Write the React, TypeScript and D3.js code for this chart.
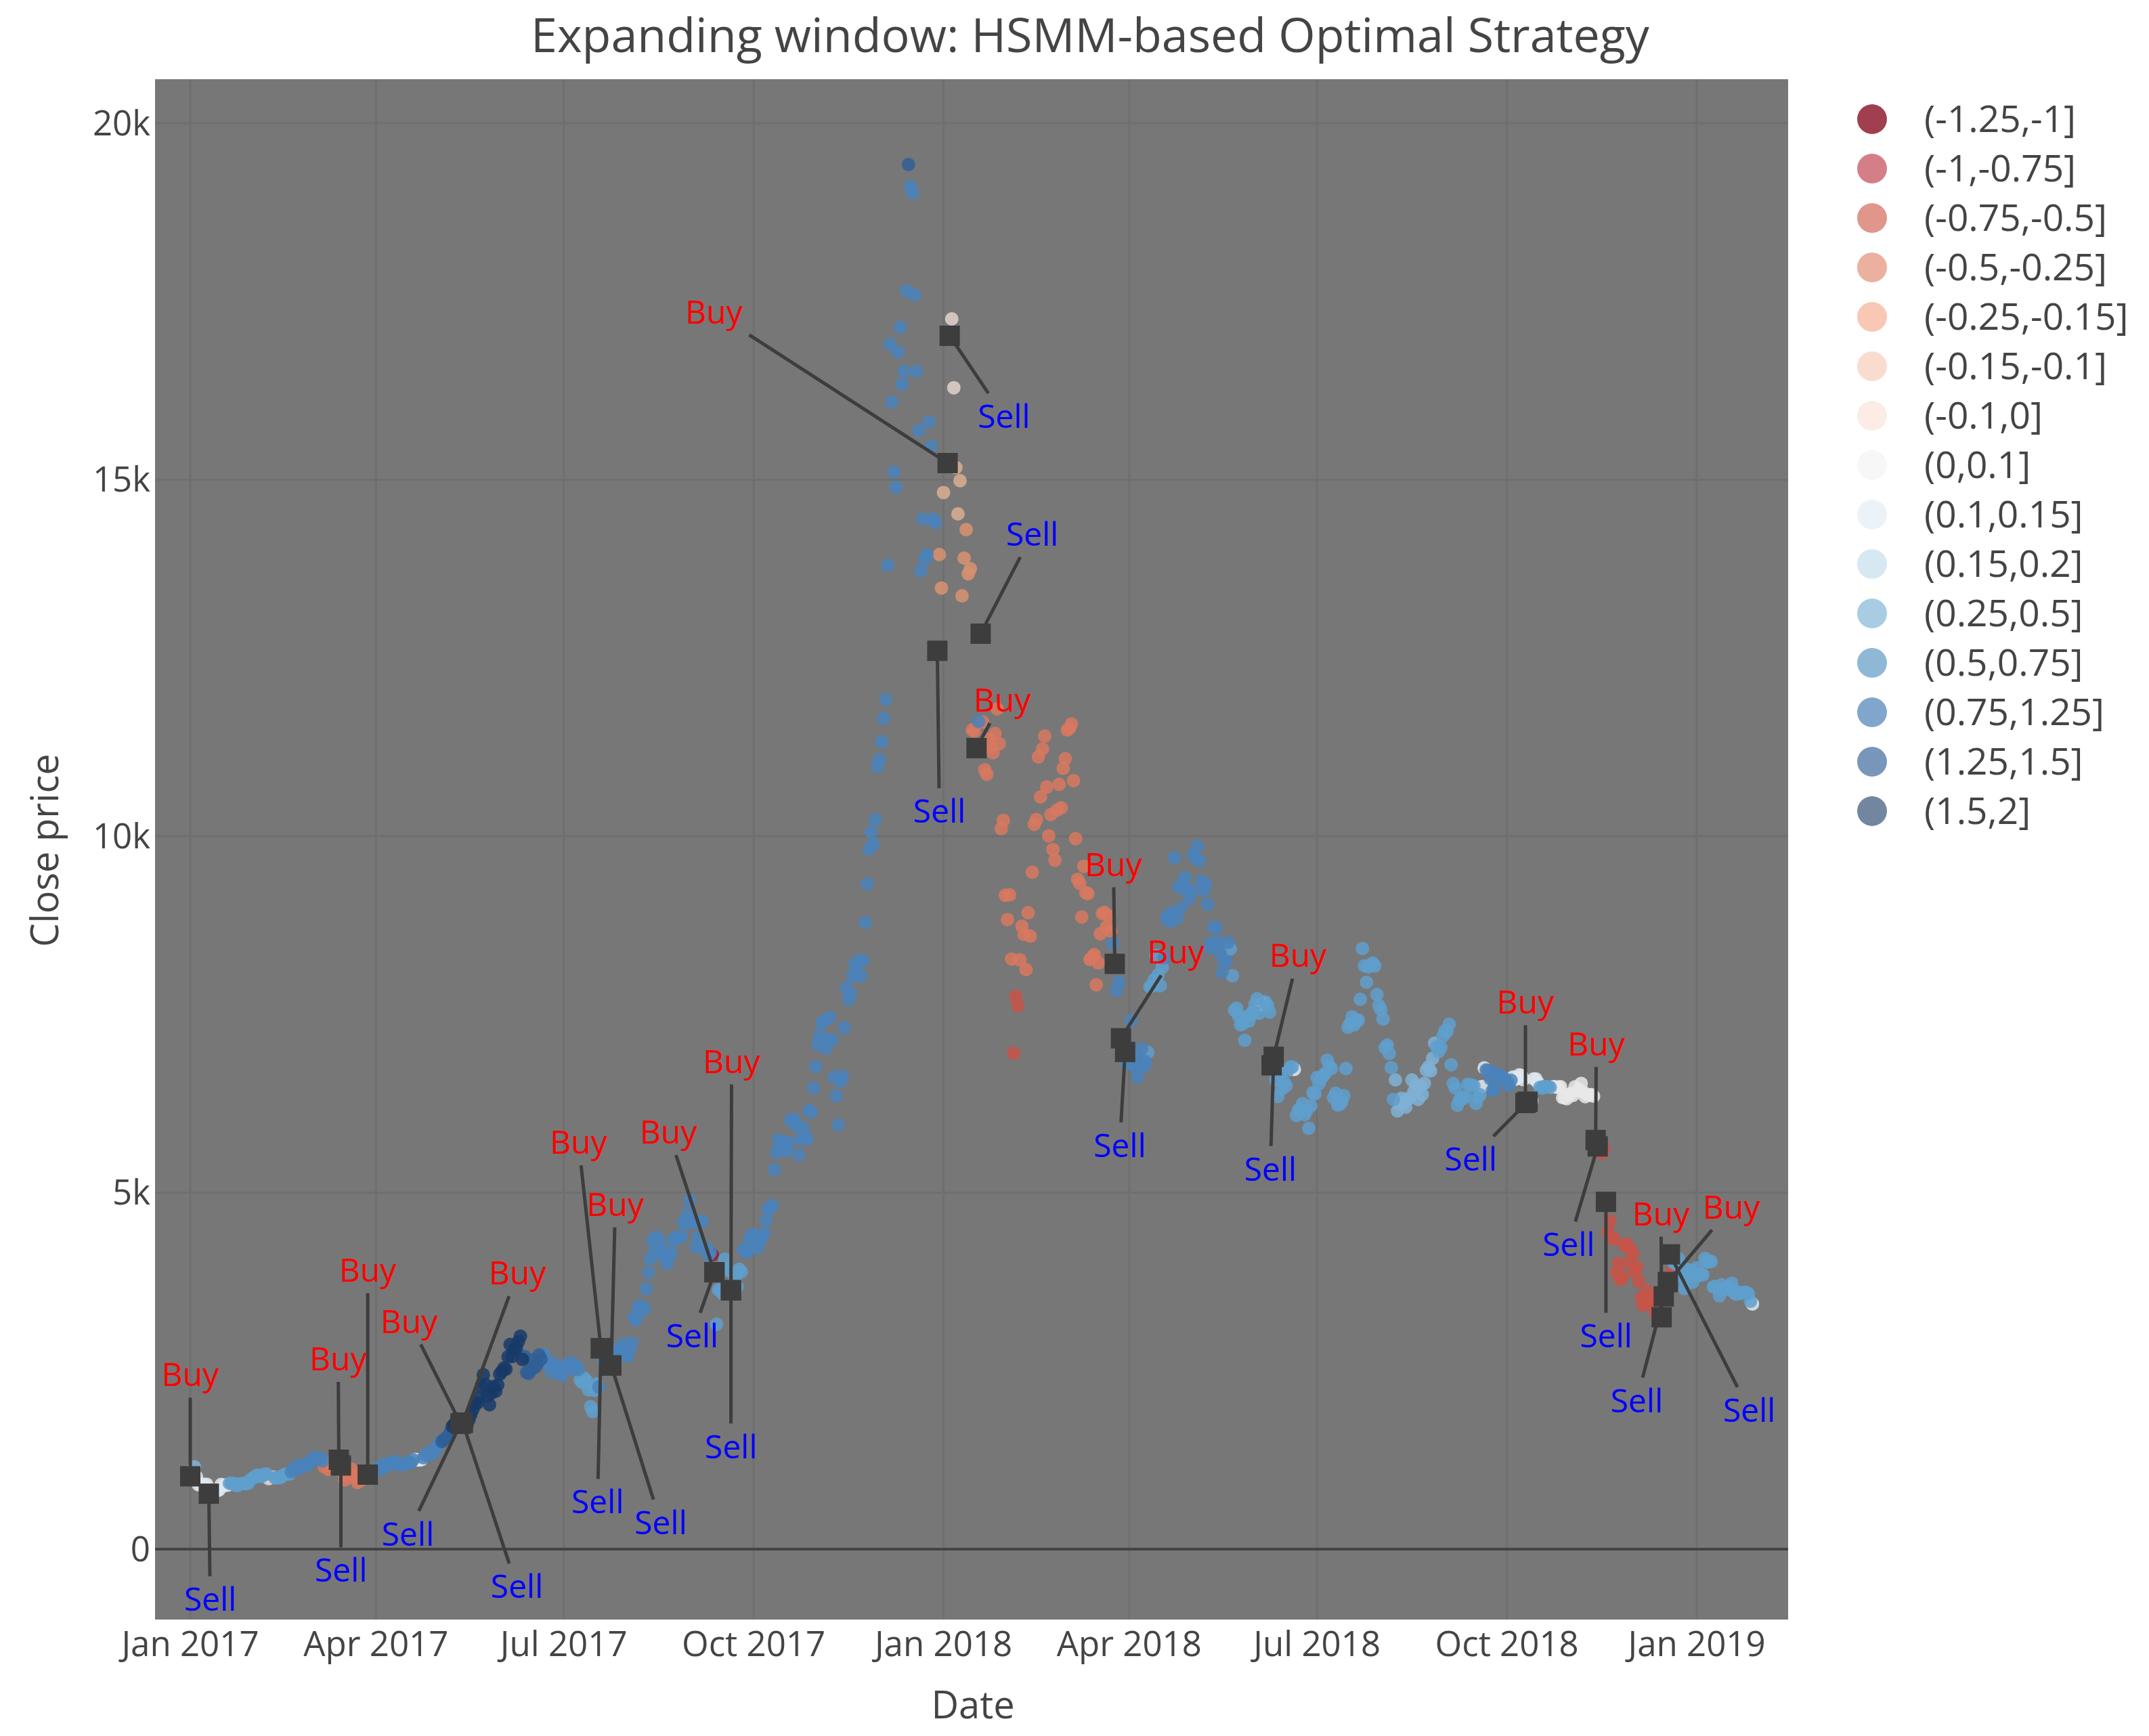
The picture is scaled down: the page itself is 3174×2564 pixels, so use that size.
import * as d3 from "d3";

// Daily close price, one array per month (index 0 = 1st day of the month)
const jan17 = [1021, 1044, 1154, 1013, 903, 908, 911, 902, 908, 777, 804, 827, 818, 822, 831, 907, 886, 899, 896, 923, 925, 921, 892, 894, 915, 918, 920, 914, 920, 970, 989];
const feb17 = [1009, 1030, 1040, 1016, 1025, 1050, 1054, 988, 1005, 1012, 1000, 996, 1010, 1008, 1032, 1050, 1055, 1052, 1083, 1122, 1120, 1172, 1176, 1144, 1164, 1179, 1188, 1222];
const mar17 = [1251, 1283, 1265, 1272, 1277, 1234, 1151, 1188, 1116, 1176, 1226, 1237, 1243, 1253, 1173, 1071, 971, 1022, 1047, 1123, 1047, 1044, 934, 964, 967, 1045, 1045, 1044, 1037, 1079, 1086];
const apr17 = [1097, 1144, 1143, 1133, 1190, 1187, 1183, 1205, 1208, 1226, 1219, 1180, 1185, 1187, 1187, 1205, 1211, 1217, 1253, 1258, 1252, 1250, 1255, 1281, 1318, 1345, 1332, 1353, 1348, 1421];
const may17 = [1452, 1491, 1508, 1534, 1561, 1575, 1641, 1722, 1755, 1805, 1712, 1760, 1773, 1718, 1727, 1809, 1891, 1960, 2041, 2047, 2124, 2283, 2446, 2309, 2150, 2025, 2190, 2278, 2215, 2303, 2453];
const jun17 = [2491, 2540, 2523, 2698, 2869, 2702, 2800, 2820, 2910, 2986, 2660, 2700, 2480, 2464, 2518, 2656, 2549, 2590, 2722, 2665, 2727, 2705, 2620, 2589, 2480, 2590, 2585, 2550, 2480, 2434];
const jul17 = [2506, 2564, 2601, 2601, 2608, 2518, 2571, 2518, 2372, 2337, 2398, 2357, 2233, 1998, 1929, 2228, 2318, 2273, 2817, 2667, 2810, 2730, 2754, 2576, 2529, 2671, 2809, 2726, 2757, 2875, 2718];
const aug17 = [2710, 2805, 2895, 3252, 3213, 3378, 3419, 3342, 3381, 3650, 3884, 4073, 4325, 4181, 4376, 4331, 4160, 4193, 4087, 4001, 4100, 4151, 4334, 4371, 4352, 4382, 4382, 4579, 4565, 4703, 4892];
const sep17 = [4579, 4582, 4236, 4376, 4597, 4599, 4229, 4226, 4122, 4161, 4130, 3883, 3154, 3637, 3625, 3582, 4065, 3925, 3905, 3631, 3630, 3792, 3682, 3926, 3892, 4200, 4174, 4164, 4338, 4403];
const oct17 = [4409, 4317, 4229, 4328, 4370, 4426, 4610, 4772, 4782, 4819, 5325, 5563, 5739, 5647, 5711, 5603, 5590, 5708, 6011, 6031, 6008, 5930, 5526, 5750, 5904, 5780, 5753, 6153, 6130, 6468, 6767];
const nov17 = [7078, 7207, 7379, 7407, 7022, 7144, 7459, 7143, 6618, 6357, 5950, 6559, 6635, 7315, 7871, 7708, 7790, 8036, 8200, 8071, 8253, 8038, 8253, 8790, 9330, 9818, 10058, 9888, 10233, 10975];
const dec17 = [11074, 11323, 11657, 11916, 13800, 16900, 16090, 15110, 14890, 16790, 17140, 16340, 16520, 17650, 19420, 19115, 19020, 17590, 16520, 15690, 13720, 14450, 13880, 13950, 15810, 15470, 14450, 14400, 12600, 13950, 13480];
const jan18 = [14820, 15200, 15233, 17018, 17255, 16290, 15170, 14520, 14985, 13370, 13900, 14300, 13680, 13750, 11490, 11474, 11235, 11607, 12840, 11600, 10931, 10868, 11359, 11259, 11171, 11441, 11786, 11296, 10106, 10221, 9170];
const feb18 = [8830, 9175, 8277, 6955, 7754, 7621, 8265, 8737, 8621, 8129, 8926, 8598, 9494, 10166, 10233, 11112, 10551, 11225, 11403, 10690, 10005, 10301, 9813, 9664, 10366, 10725, 10397, 10951];
const mar18 = [11086, 11489, 11512, 11573, 10779, 9965, 9395, 9337, 8866, 9578, 9205, 9194, 8270, 8300, 8338, 7916, 8223, 8630, 8913, 8929, 8728, 8879, 8668, 8495, 8209, 7834, 7954, 7165, 6891, 6973, 6813];
const apr18 = [7056, 7415, 6790, 6775, 6620, 6900, 7020, 6770, 6834, 6968, 7889, 7895, 7986, 8329, 8058, 7902, 8163, 8294, 8845, 8895, 8802, 8930, 9698, 8845, 9281, 8987, 9348, 9419, 9240, 9119];
const may18 = [9235, 9744, 9700, 9859, 9654, 9374, 9235, 9325, 9044, 8441, 8505, 8723, 8716, 8510, 8368, 8094, 8250, 8247, 8514, 8419, 8042, 7557, 7588, 7480, 7355, 7368, 7136, 7472, 7406, 7494, 7541];
const jun18 = [7643, 7720, 7514, 7633, 7653, 7678, 7624, 7531, 6786, 6906, 6582, 6349, 6675, 6456, 6550, 6500, 6718, 6761, 6763, 6729, 6083, 6162, 6174, 6249, 6094, 6157, 5903, 6219, 6404, 6385];
const jul18 = [6614, 6530, 6598, 6639, 6673, 6857, 6773, 6741, 6330, 6394, 6228, 6238, 6276, 6359, 6741, 7321, 7370, 7466, 7354, 7419, 7418, 7711, 8424, 8182, 7951, 8165, 8192, 8218, 8180, 7780, 7625];
const aug18 = [7567, 7434, 7032, 7069, 6951, 6753, 6306, 6581, 6146, 6239, 6323, 6263, 6199, 6308, 6334, 6580, 6423, 6507, 6309, 6489, 6376, 6534, 6719, 6763, 6707, 6884, 7097, 7048, 6979, 7037, 7193];
const sep18 = [7272, 7261, 7361, 6793, 6529, 6467, 6225, 6300, 6329, 6321, 6352, 6517, 6513, 6507, 6498, 6252, 6335, 6371, 6489, 6749, 6720, 6711, 6596, 6433, 6450, 6676, 6645, 6602, 6625, 6589];
const oct18 = [6556, 6502, 6576, 6622, 6588, 6603, 6652, 6642, 6585, 6257, 6275, 6285, 6290, 6596, 6596, 6544, 6476, 6465, 6489, 6482, 6487, 6476, 6484, 6486, 6479, 6480, 6486, 6332, 6334, 6317, 6377];
const nov18 = [6389, 6362, 6484, 6429, 6450, 6532, 6411, 6347, 6376, 6370, 6375, 6352, 5738, 5648, 5575, 5554, 5623, 4871, 4451, 4602, 4365, 4347, 3880, 4009, 3779, 3820, 4257, 4278, 4017, 4214];
const dec18 = [4139, 3894, 3956, 3754, 3521, 3419, 3476, 3614, 3502, 3424, 3487, 3313, 3243, 3236, 3252, 3545, 3697, 3746, 4134, 3896, 4014, 3998, 4078, 3815, 3857, 3654, 3923, 3821, 3913, 3743, 3843];
const jan19 = [3943, 3837, 3857, 3845, 4076, 4026, 4030, 4035, 3678, 3687, 3661, 3553, 3706, 3631, 3655, 3678, 3657, 3729, 3601, 3576, 3604, 3585, 3600, 3599, 3602, 3583, 3476, 3438];

const monthStarts = [
  "2017-01", "2017-02", "2017-03", "2017-04", "2017-05", "2017-06", "2017-07", "2017-08", "2017-09",
  "2017-10", "2017-11", "2017-12", "2018-01", "2018-02", "2018-03", "2018-04", "2018-05", "2018-06",
  "2018-07", "2018-08", "2018-09", "2018-10", "2018-11", "2018-12", "2019-01",
];
const monthCloses = [
  jan17, feb17, mar17, apr17, may17, jun17, jul17, aug17, sep17, oct17, nov17, dec17,
  jan18, feb18, mar18, apr18, may18, jun18, jul18, aug18, sep18, oct18, nov18, dec18, jan19,
];

// mean-return bins of the hidden states
const binLabels = [
  "(-1.25,-1]", "(-1,-0.75]", "(-0.75,-0.5]", "(-0.5,-0.25]", "(-0.25,-0.15]", "(-0.15,-0.1]", "(-0.1,0]",
  "(0,0.1]", "(0.1,0.15]", "(0.15,0.2]", "(0.25,0.5]", "(0.5,0.75]", "(0.75,1.25]", "(1.25,1.5]", "(1.5,2]",
];

// decoded state per day: [first day of the run, bin index]
const regimeRuns: [string, number][] = [
  ["2017-01-01", 10], ["2017-01-04", 8], ["2017-01-08", 7], ["2017-01-15", 8], ["2017-01-20", 11],
  ["2017-02-08", 6], ["2017-02-11", 11], ["2017-02-19", 12], ["2017-03-07", 2], ["2017-03-28", 12],
  ["2017-04-20", 7], ["2017-04-24", 12], ["2017-05-03", 13], ["2017-05-08", 14], ["2017-06-12", 13],
  ["2017-06-21", 12], ["2017-07-09", 11], ["2017-07-18", 12], ["2017-09-11", 0], ["2017-09-13", 11],
  ["2017-09-26", 12], ["2017-12-15", 13], ["2017-12-16", 12], ["2017-12-30", 3], ["2018-01-01", 4],
  ["2018-01-04", 6], ["2018-01-07", 4], ["2018-01-10", 3], ["2018-01-15", 2], ["2018-01-18", 12],
  ["2018-01-19", 2], ["2018-02-04", 1], ["2018-02-07", 2], ["2018-03-24", 12], ["2018-04-10", 11],
  ["2018-04-18", 12], ["2018-05-20", 11], ["2018-06-04", 8], ["2018-06-06", 11], ["2018-06-20", 8],
  ["2018-06-21", 11], ["2018-08-08", 10], ["2018-08-28", 11], ["2018-09-19", 8], ["2018-09-21", 12],
  ["2018-10-04", 8], ["2018-10-17", 11], ["2018-10-23", 7], ["2018-11-14", 1], ["2018-12-15", 11],
  ["2018-12-20", 1], ["2018-12-21", 11], ["2019-01-28", 8],
];

// strategy signals
const trades: [string, "Buy" | "Sell"][] = [
  ["2017-01-01", "Buy"], ["2017-01-10", "Sell"], ["2017-03-14", "Buy"], ["2017-03-15", "Sell"],
  ["2017-03-28", "Buy"], ["2017-05-12", "Buy"], ["2017-05-12", "Sell"], ["2017-05-13", "Buy"],
  ["2017-05-13", "Sell"], ["2017-07-19", "Buy"], ["2017-07-19", "Sell"], ["2017-07-24", "Buy"],
  ["2017-07-24", "Sell"], ["2017-09-12", "Buy"], ["2017-09-12", "Sell"], ["2017-09-20", "Buy"],
  ["2017-09-20", "Sell"], ["2017-12-29", "Sell"], ["2018-01-03", "Buy"], ["2018-01-04", "Sell"],
  ["2018-01-17", "Buy"], ["2018-01-19", "Sell"], ["2018-03-25", "Buy"], ["2018-03-28", "Buy"],
  ["2018-03-30", "Sell"], ["2018-06-09", "Buy"], ["2018-06-10", "Sell"], ["2018-10-10", "Buy"],
  ["2018-10-11", "Sell"], ["2018-11-13", "Buy"], ["2018-11-14", "Sell"], ["2018-11-18", "Sell"],
  ["2018-12-15", "Buy"], ["2018-12-16", "Sell"], ["2018-12-18", "Buy"], ["2018-12-19", "Sell"],
];

// annotation text offset from its marker, px (like plotly ax/ay)
const labelOffsets: [number, number][] = [
  [0, -150], [2, 156], [-1, -149], [0, 155], [0, -302], [-76, -151], [-78, 163], [81, -221],
  [80, 242], [-33, -304], [-5, 227], [6, -238], [73, 232], [-68, -207], [-33, 94], [1, -338],
  [0, 231], [3, 237], [-345, -223], [80, 119], [38, -71], [76, -147], [-2, -147], [81, -127],
  [-8, 138], [39, -162], [-5, 166], [0, -149], [-84, 85], [1, -142], [-43, 145], [0, 198],
  [-1, -153], [-40, 154], [94, -111], [117, 230],
];

const xTickDates = ["2017-01-01", "2017-04-01", "2017-07-01", "2017-10-01", "2018-01-01", "2018-04-01", "2018-07-01", "2018-10-01", "2019-01-01"];
const yTicks = [0, 5000, 10000, 15000, 20000];
const yTickLabels = ["0", "5k", "10k", "15k", "20k"];

// colours: legend swatches and the markers on the dark plot background
const legendFill = [
  "#a0404f", "#d47f87", "#e0968b", "#ecb09f", "#f8c8b4", "#fadccf", "#fbece6", "#f7f7f7",
  "#ecf3f8", "#d8e8f2", "#a8cce2", "#8eb8d6", "#80a6cc", "#7896b9", "#7286a0",
];
const pointFill = [
  "#8c1c32", "#c85448", "#d9785f", "#d99270", "#dcae92", "#dcc0b2", "#e0d2ca", "#e8e8e8",
  "#dfe8ee", "#cfe0ec", "#7fb2d6", "#5f9fcd", "#4a82bb", "#2f5f96", "#173a68",
];

const W = 3174;
const H = 2564;
const plot = { left: 229, right: 2641, top: 117, bottom: 2392 };
const FONT = "'Open Sans', verdana, arial, sans-serif";
const INK = "#444";
const MARK = "#3d3d3d";

const parse = d3.utcParse("%Y-%m-%d");
const fmt = d3.utcFormat("%b %Y");

export default function App() {
  const series = monthStarts.flatMap((ym, k) => {
    const [yy, mm] = ym.split("-").map(Number);
    return monthCloses[k].map((v, i) => ({ date: new Date(Date.UTC(yy, mm - 1, i + 1)), close: v }));
  });
  const runs = regimeRuns.map(([d, b]) => ({ start: parse(d)!, bin: b }));
  const binOf = (t: Date) => {
    let b = runs[0].bin;
    for (const r of runs) {
      if (r.start <= t) b = r.bin;
      else break;
    }
    return b;
  };
  const points = series.map((p) => ({ ...p, bin: binOf(p.date) }));
  const closeOn = new Map(series.map((p) => [+p.date, p.close]));

  const x = d3
    .scaleUtc()
    .domain([new Date(Date.UTC(2016, 11, 14, 22, 30)), new Date(Date.UTC(2019, 1, 14, 6, 40))])
    .range([plot.left, plot.right]);
  const y = d3.scaleLinear().domain([-988, 20617]).range([plot.bottom, plot.top]);

  const marks = trades.map(([d, side], i) => {
    const t = parse(d)!;
    const mx = x(t);
    const my = y(closeOn.get(+t) ?? 0);
    const [ax, ay] = labelOffsets[i];
    const lx = mx + ax;
    const ly = my + ay;
    // arrow starts at the edge of the text box
    const hw = side === "Buy" ? 52 : 48;
    const hh = 34;
    const dx = mx - lx;
    const dy = my - ly;
    const s = Math.min(dx === 0 ? Infinity : hw / Math.abs(dx), dy === 0 ? Infinity : hh / Math.abs(dy));
    return { side, mx, my, lx, ly, sx: lx + s * dx, sy: ly + s * dy, showArrow: s < 1 };
  });

  const xTicks = xTickDates.map((d) => parse(d)!);

  return (
    <div style={{ position: "absolute", left: 0, top: 0 }}>
      <svg width={W} height={H} style={{ display: "block", fontFamily: FONT }}>
        <rect width={W} height={H} fill="#fff" />
        <rect x={plot.left} y={plot.top} width={plot.right - plot.left} height={plot.bottom - plot.top} fill="#777777" />

        {/* grid */}
        {xTicks.map((t, i) => (
          <line key={`gx${i}`} x1={x(t)} x2={x(t)} y1={plot.top} y2={plot.bottom} stroke="#6f6f6f" strokeWidth={3} />
        ))}
        {yTicks.filter((v) => v !== 0).map((v) => (
          <line key={`gy${v}`} x1={plot.left} x2={plot.right} y1={y(v)} y2={y(v)} stroke="#6f6f6f" strokeWidth={3} />
        ))}
        <line x1={plot.left} x2={plot.right} y1={y(0)} y2={y(0)} stroke={INK} strokeWidth={4} />

        {/* close price coloured by state */}
        {d3.range(binLabels.length).map((b) => (
          <g key={`bin${b}`} fill={pointFill[b]} fillOpacity={0.85}>
            {points
              .filter((p) => p.bin === b)
              .map((p, i) => (
                <circle key={i} cx={x(p.date)} cy={y(p.close)} r={10} />
              ))}
          </g>
        ))}

        {/* trade markers */}
        {marks.map((m, i) => (
          <rect key={`sq${i}`} x={m.mx - 15} y={m.my - 15} width={30} height={30} fill={MARK} />
        ))}

        {/* annotations */}
        {marks.map((m, i) => (
          <g key={`an${i}`}>
            {m.showArrow && (
              <line x1={m.sx} y1={m.sy} x2={m.mx} y2={m.my} stroke={MARK} strokeWidth={5} />
            )}
            <text
              x={m.lx}
              y={m.ly + 17}
              textAnchor="middle"
              fontSize={48}
              fill={m.side === "Buy" ? "#ff0000" : "#0000ff"}
            >
              {m.side}
            </text>
          </g>
        ))}

        {/* axes */}
        {xTicks.map((t, i) => (
          <text key={`xt${i}`} x={x(t)} y={2446} textAnchor="middle" fontSize={51} fill={INK}>
            {fmt(t)}
          </text>
        ))}
        {yTicks.map((v, i) => (
          <text key={`yt${v}`} x={222} y={y(v) + 18} textAnchor="end" fontSize={51} fill={INK}>
            {yTickLabels[i]}
          </text>
        ))}
        <text x={1437} y={2538} textAnchor="middle" fontSize={56} fill={INK}>
          Date
        </text>
        <text transform="translate(86,1256) rotate(-90)" textAnchor="middle" fontSize={56} fill={INK}>
          Close price
        </text>
        <text x={1610} y={77} textAnchor="middle" fontSize={70} fill={INK}>
          Expanding window: HSMM-based Optimal Strategy
        </text>

        {/* legend */}
        {binLabels.map((lab, i) => {
          const cy = 176 + i * 73;
          return (
            <g key={`lg${i}`}>
              <circle cx={2765} cy={cy} r={22} fill={legendFill[i]} />
              <text x={2842} y={cy + 19} fontSize={55} fill={INK}>
                {lab}
              </text>
            </g>
          );
        })}
      </svg>
    </div>
  );
}
